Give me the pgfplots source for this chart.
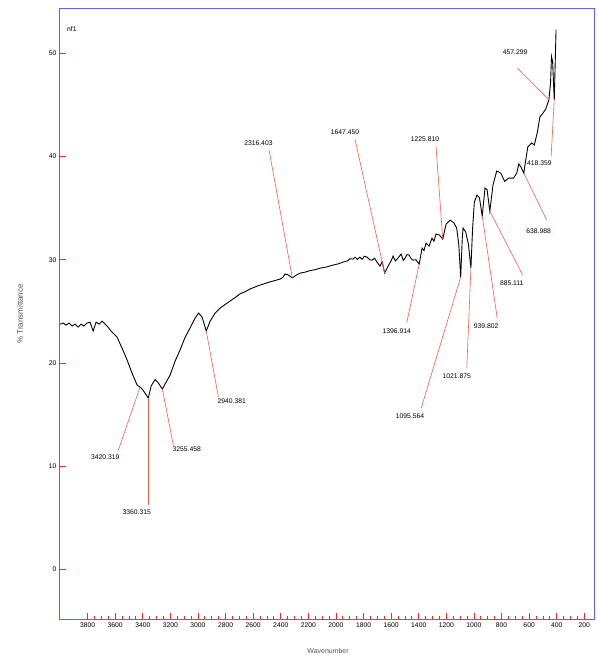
\documentclass[border=0pt]{standalone}
\usepackage{pgfplots}
\pgfplotsset{compat=1.18}
\usepackage{fontspec}
\setmainfont{Liberation Sans}
\definecolor{frameblue}{RGB}{95,95,255}
\definecolor{annot}{RGB}{240,95,75}
\definecolor{tickred}{RGB}{235,40,40}
\definecolor{labgray}{RGB}{80,80,110}

\begin{document}
\begin{tikzpicture}
\path[use as bounding box] (-60bp,-38bp) rectangle (538bp,619bp);
\begin{axis}[
  at={(0,0)}, anchor=south west,
  scale only axis, width=534bp, height=610bp,
  x dir=reverse, xmin=130, xmax=4000, ymin=-4.8, ymax=54.3,
  xtick={200,400,...,3800}, minor x tick num=3,
  ytick={0,10,...,50},
  xtick pos=bottom, ytick pos=left,
  tick align=inside,
  major tick length=6bp, minor tick length=3bp,
  every tick/.style={tickred, line width=0.8pt},
  axis line style={frameblue, line width=1pt},
  axis on top,
  ticklabel style={font=\fontsize{6.8}{7}\selectfont},
  /pgf/number format/assume math mode=true,
  /pgf/number format/1000 sep={},
  clip=false,
]
% FTIR spectrum (wavenumber, % transmittance)
\addplot[black, line width=0.9pt] coordinates {
(3999,23.77) (3977,23.87) (3956,23.67) (3934,23.87) (3912,23.58) (3891,23.77)
(3869,23.48) (3847,23.77) (3826,23.58) (3804,23.87) (3782,23.96) (3760,23.10)
(3738,23.96) (3717,23.77) (3695,24.06) (3673,23.77) (3652,23.48) (3630,23.09)
(3587,22.53) (3551,21.46) (3514,20.30) (3478,19.02) (3441,17.86) (3420,17.67)
(3398,17.37) (3360,16.60) (3340,17.76) (3311,18.40) (3289,18.10) (3258,17.47)
(3231,18.15) (3202,18.83) (3166,20.18) (3130,21.25) (3093,22.50) (3057,23.40)
(3021,24.35) (2996,24.84) (2970,24.45) (2940,23.10) (2912,24.06) (2876,24.84)
(2840,25.32) (2800,25.70) (2768,26.00) (2730,26.35) (2695,26.70) (2660,26.90)
(2623,27.17) (2590,27.35) (2551,27.55) (2515,27.70) (2478,27.86) (2440,28.00)
(2405,28.13) (2385,28.30) (2369,28.63) (2347,28.54) (2316,28.24) (2290,28.50)
(2260,28.71) (2225,28.80) (2188,28.95) (2150,29.05) (2115,29.19) (2070,29.30)
(2021,29.49) (1985,29.60) (1949,29.78) (1915,29.90) (1900,30.10) (1877,30.07)
(1860,30.25) (1845,30.05) (1826,30.26) (1810,30.05) (1795,30.35) (1775,30.26)
(1755,30.00) (1739,29.97) (1720,30.15) (1703,29.78) (1681,29.39) (1665,29.80)
(1647,28.71) (1622,29.39) (1600,29.90) (1586,30.36) (1570,29.90) (1557,30.07)
(1540,30.35) (1528,30.55) (1512,29.95) (1499,30.17) (1485,30.50) (1470,30.46)
(1455,30.10) (1441,29.97) (1420,30.00) (1397,29.58) (1376,31.13) (1362,30.90)
(1347,31.62) (1325,31.33) (1304,32.10) (1290,31.80) (1275,32.50) (1250,32.40)
(1226,32.00) (1202,33.46) (1173,33.85) (1144,33.56) (1125,33.07) (1110,31.50)
(1096,28.32) (1085,32.00) (1079,33.07) (1060,32.70) (1040,31.50) (1022,29.20)
(1010,33.00) (997,35.60) (978,36.27) (960,36.00) (940,34.24) (920,36.95)
(905,36.80) (885,34.72) (862,37.24) (835,38.60) (806,38.40) (777,37.60)
(748,37.92) (713,37.92) (690,38.40) (675,39.28) (660,39.00) (639,38.40)
(610,40.93) (582,41.32) (562,41.13) (540,42.40) (522,43.85) (500,44.20)
(480,44.60) (457,45.50) (445,47.10) (438,49.70) (430,49.20) (418,45.50)
(405,52.30)
};

% peak-pick leader lines
\begin{scope}[annot, line width=0.6pt]
\draw (axis cs:3577,11.56) -- (axis cs:3420,17.67);
\draw (axis cs:3360,6.23)  -- (axis cs:3360,16.60);
\draw (axis cs:3178,11.98) -- (axis cs:3258,17.47);
\draw (axis cs:2852,16.72) -- (axis cs:2940,23.10);
\draw (axis cs:2485,40.63) -- (axis cs:2316,28.24);
\draw (axis cs:1862,41.67) -- (axis cs:1647,28.71);
\draw (axis cs:1275,41.00) -- (axis cs:1226,32.00);
\draw (axis cs:1487,23.90) -- (axis cs:1397,29.58);
\draw (axis cs:1383,15.60) -- (axis cs:1096,28.32);
\draw (axis cs:1052,19.48) -- (axis cs:1022,29.20);
\draw (axis cs:831,24.32)  -- (axis cs:940,34.24);
\draw (axis cs:647,28.52)  -- (axis cs:885,34.72);
\draw (axis cs:473,33.85)  -- (axis cs:639,38.40);
\draw (axis cs:683,48.55)  -- (axis cs:457,45.50);
\draw (axis cs:441,39.98)  -- (axis cs:418,45.50);
\end{scope}

% peak-pick labels
\begin{scope}[every node/.style={font=\fontsize{6.8}{7}\selectfont, inner sep=0pt}]
\node at (axis cs:3661,10.91) {3420.319\,\textcolor{orange!60}{:}};
\node at (axis cs:3444,5.52)  {3360.315};
\node at (axis cs:3081,11.66) {3255.458};
\node at (axis cs:2755,16.34) {2940.381};
\node at (axis cs:2562,41.28) {2316.403};
\node at (axis cs:1934,42.40) {1647.450};
\node at (axis cs:1355,41.70) {1225.810};
\node at (axis cs:1560,23.12) {1396.914};
\node at (axis cs:1463,14.85) {1095.564};
\node at (axis cs:1125,18.73) {1021.875};
\node at (axis cs:912,23.57)  {939.802};
\node at (axis cs:726,27.77)  {885.111};
\node at (axis cs:520,32.78)  {638.988\,\textcolor{orange!60}{:}};
\node at (axis cs:702,50.10)  {457.299};
\node at (axis cs:526,39.40)  {418.359};
\end{scope}

\node[anchor=west, font=\fontsize{6.8}{7}\selectfont, inner sep=0pt]
  at (axis description cs:0.013,0.967) {nf1};
\node[font=\fontsize{7}{8}\selectfont, text=labgray]
  at (axis description cs:0.502,-0.052) {Wavenumber};
\node[rotate=90, font=\fontsize{8}{9}\selectfont, text=labgray]
  at (axis description cs:-0.075,0.50) {\% Transmittance};
\end{axis}
\end{tikzpicture}
\end{document}
